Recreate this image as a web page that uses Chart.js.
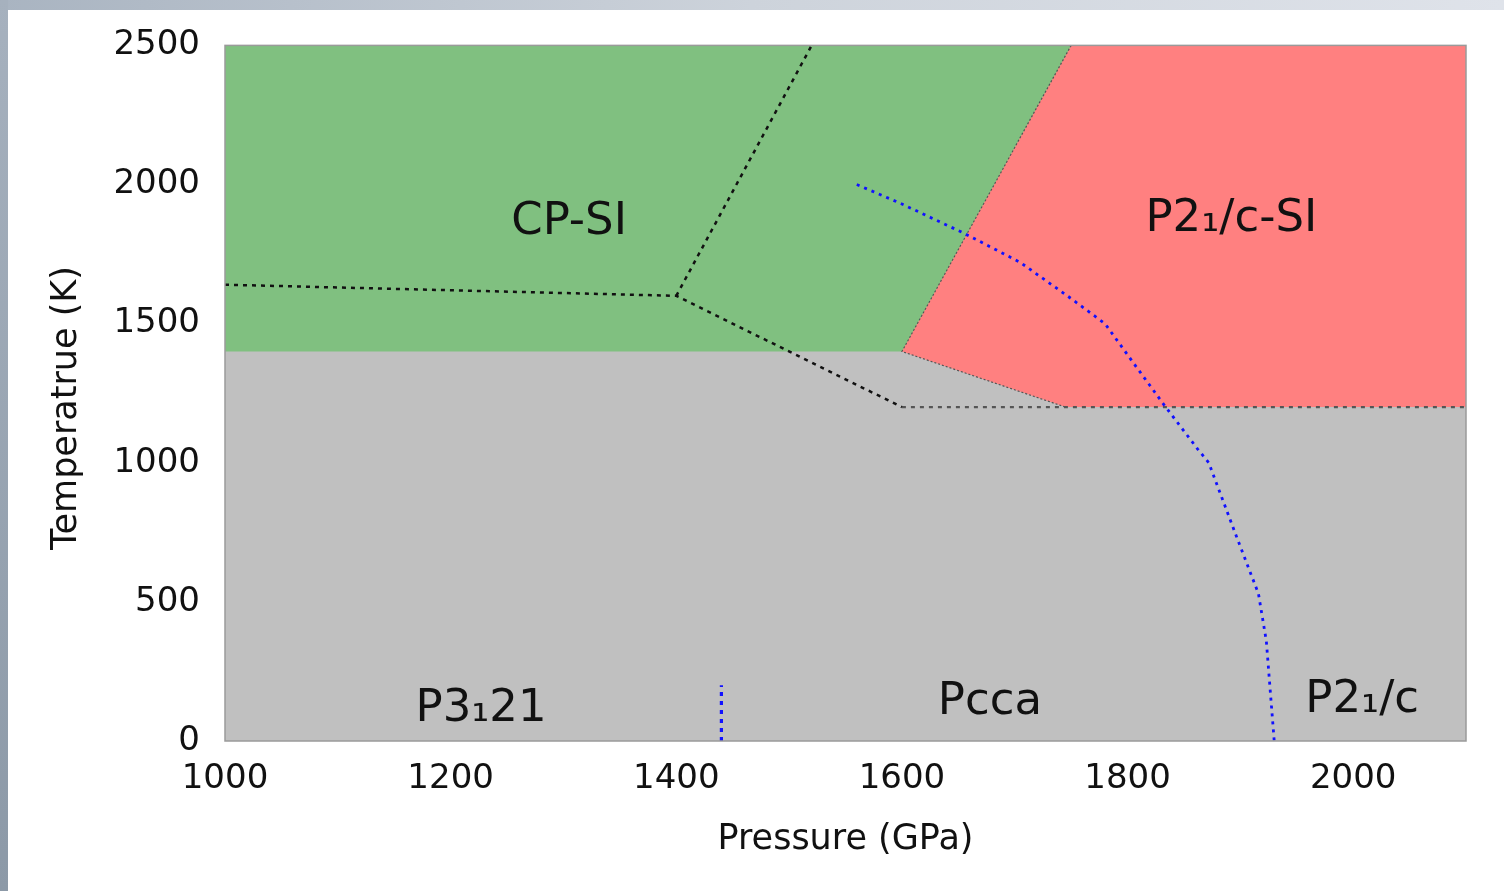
<!DOCTYPE html>
<html>
<head>
<meta charset="utf-8">
<script src="https://cdn.jsdelivr.net/npm/chart.js@4.4.1/dist/chart.umd.min.js"></script>
<style>
  html, body { margin: 0; padding: 0; }
  body { width: 1504px; height: 891px; overflow: hidden; position: relative;
         background: linear-gradient(90deg, #a9b4c1 0%, #cdd3db 50%, #dfe3ea 100%); }
  .edge { position: absolute; left: 0; top: 0; width: 8px; height: 891px;
          background: linear-gradient(180deg, #a6b1be, #8c99a7); }
  .panel { position: absolute; left: 8px; top: 10px; right: 0; bottom: 0; background: #fff; }
  #wrap { position: absolute; left: 0; top: 0; width: 1504px; height: 891px; }
</style>
</head>
<body>
<div class="edge"></div>
<div class="panel"></div>
<div id="wrap"><canvas id="phase"></canvas></div>
<script>
// ── Axis ticks ──
const xTicks = [1000, 1200, 1400, 1600, 1800, 2000];
const yTicks = [0, 500, 1000, 1500, 2000, 2500];

// ── Phase regions (P, T) ──
const cpsiX = [1000, 1600, 1750];          // lower/right edge of CP-SI region
const cpsiY = [1400, 1400, 2500];
const p21siX = [1600, 1745, 2100];         // lower edge of P2₁/c-SI region
const p21siY = [1400, 1200, 1200];
const edgeX = [1750, 1600, 1745];          // border between the two SI phases
const edgeY = [2500, 1400, 1200];

// ── Black dotted boundaries ──
const lineAX = [1000, 1400, 1600];
const lineAY = [1640, 1600, 1200];
const lineBX = [1400, 1520];
const lineBY = [1600, 2500];
const lineCX = [1600, 2100];
const lineCY = [1200, 1200];

// ── Blue dotted boundaries ──
const blueX = [1560, 1600, 1655, 1705, 1750, 1780, 1805, 1832, 1862, 1872, 1897, 1916, 1923, 1930];
const blueY = [2000, 1930, 1825, 1720, 1590, 1500, 1360, 1210, 1050, 1000, 730, 530, 360, 0];
const blueVX = [1440, 1440];
const blueVY = [0, 200];

// ── Phase labels ──
const phaseNames = ['CP-SI', 'P2\u2081/c-SI', 'P3\u208121', 'Pcca', 'P2\u2081/c'];
const phaseX = [1305, 1892, 1227, 1678, 2008];
const phaseY = [1865, 1875, 115, 140, 145];

const pts = (xs, ys) => xs.map((x, i) => ({ x, y: ys[i] }));

const FONT = 'DejaVu Sans';
const TEXT = '#111';

const bgPlugin = {
  id: 'plotBg',
  beforeDatasetsDraw(chart) {
    const { ctx, chartArea: a } = chart;
    ctx.save();
    ctx.fillStyle = '#c0c0c0';
    ctx.fillRect(a.left, a.top, a.right - a.left, a.bottom - a.top);
    ctx.restore();
  },
  afterDatasetsDraw(chart) {
    const { ctx, chartArea: a, scales } = chart;
    ctx.save();
    ctx.strokeStyle = '#9a9a9a';
    ctx.lineWidth = 1.5;
    ctx.strokeRect(a.left, a.top, a.right - a.left, a.bottom - a.top);
    ctx.fillStyle = TEXT;
    ctx.textAlign = 'center';
    ctx.textBaseline = 'middle';
    ctx.font = `45px "${FONT}"`;
    phaseNames.forEach((name, i) => {
      ctx.fillText(name, scales.x.getPixelForValue(phaseX[i]), scales.y.getPixelForValue(phaseY[i]));
    });
    // y axis title, sits a little below the axis centre in the original
    ctx.font = `35px "${FONT}"`;
    ctx.translate(67, 408);
    ctx.rotate(-Math.PI / 2);
    ctx.fillText('Temperatrue (K)', 0, 0);
    ctx.restore();
  },
};

const lineDs = (data, color, width, dash, order) => ({
  data, borderColor: color, borderWidth: width, borderDash: dash,
  pointRadius: 0, fill: false, tension: 0, order,
});

new Chart(document.getElementById('phase'), {
  type: 'line',
  data: {
    datasets: [
      {
        data: pts(p21siX, p21siY), borderWidth: 0, pointRadius: 0,
        backgroundColor: '#ff8080', fill: 'end', order: 6,
      },
      {
        data: pts(cpsiX, cpsiY), borderWidth: 0, pointRadius: 0,
        backgroundColor: '#80c080', fill: 'end', order: 5,
      },
      lineDs(pts(edgeX, edgeY), '#555', 1.2, [2, 2], 4),
      lineDs(pts(lineCX, lineCY), '#555', 2.2, [4, 5], 3),
      lineDs(pts(lineAX, lineAY), '#111', 2.5, [4, 5], 2),
      lineDs(pts(lineBX, lineBY), '#111', 2.5, [4, 5], 2),
      lineDs(pts(blueX, blueY), '#1010ff', 2.8, [3, 5], 1),
      lineDs(pts(blueVX, blueVY), '#1010ff', 3.2, [4, 5], 1),
    ],
  },
  options: {
    responsive: true,
    maintainAspectRatio: false,
    animation: false,
    events: [],
    layout: { padding: { top: 41, right: 38, left: 0, bottom: 0 } },
    plugins: { legend: { display: false }, tooltip: { enabled: false } },
    scales: {
      x: {
        type: 'linear', min: 1000, max: 2100,
        afterBuildTicks: (s) => { s.ticks = xTicks.map((v) => ({ value: v })); },
        afterFit: (s) => { s.height = 150; },
        grid: { display: false, drawTicks: false },
        border: { display: false },
        ticks: { color: TEXT, font: { family: FONT, size: 34 }, padding: 18, maxRotation: 0,
                 callback: (v) => String(v) },
        title: {
          display: true, text: 'Pressure (GPa)', color: TEXT,
          font: { family: FONT, size: 35 }, padding: { top: 0, bottom: 30 },
        },
      },
      y: {
        type: 'linear', min: 0, max: 2500,
        afterBuildTicks: (s) => { s.ticks = yTicks.map((v) => ({ value: v })); },
        afterFit: (s) => { s.width = 225; },
        grid: { display: false, drawTicks: false },
        border: { display: false },
        ticks: { color: TEXT, font: { family: FONT, size: 34 }, padding: 25,
                 callback: (v) => String(v) },
      },
    },
  },
  plugins: [bgPlugin],
});
</script>
</body>
</html>
